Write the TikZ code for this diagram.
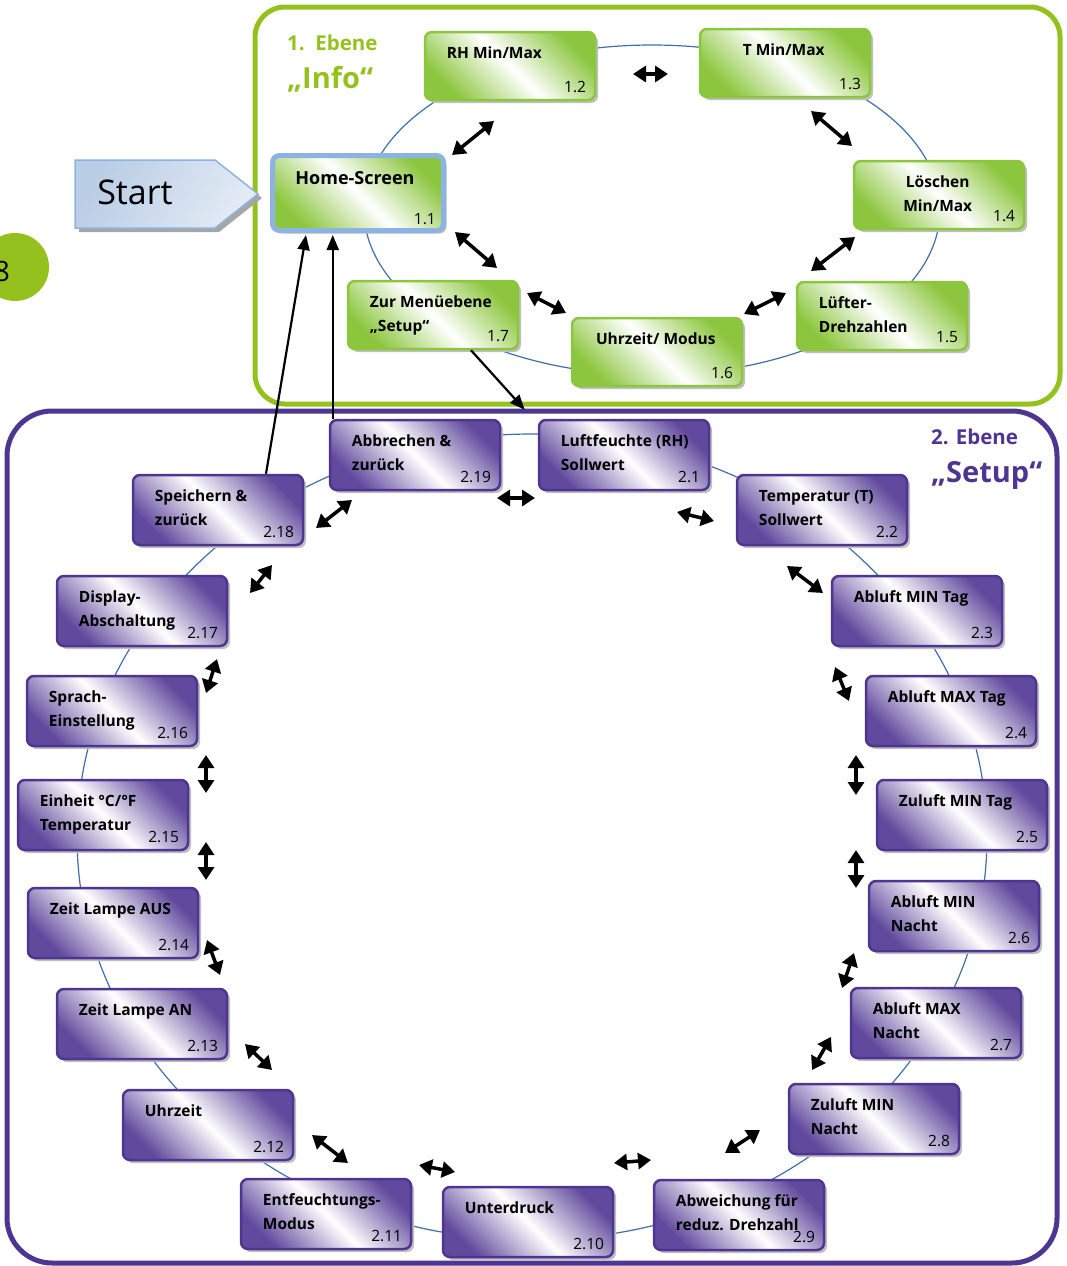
\documentclass[tikz,border=0pt]{standalone}
\usepackage{fontspec}
\setmainfont{Open Sans}
\usetikzlibrary{arrows.meta,shadows}
\definecolor{igreen}{HTML}{95C11F}
\definecolor{ngreen}{HTML}{8CC63E}
\definecolor{npurple}{HTML}{4F3592}
\definecolor{hblue}{HTML}{8DB3E2}
\definecolor{rblue}{HTML}{3F6FA8}
\definecolor{sblue}{HTML}{B9CDE5}
\newcommand{\menubox}[6][lvtwo]{%
  \node[#1] (#2) at (#3) {};
  \node[boxtext,#4] (#2t) at (#2.north west) {#5};
  \node[boxnum] (#2n) at (#2.south east) {#6};}

\tikzset{
  boxbase/.style={rectangle, rounded corners=7pt, line width=2.5pt,
    minimum width=170pt, minimum height=70pt,
    drop shadow={shadow xshift=3pt, shadow yshift=-3pt, fill=black!25, opacity=1}},
  lvone/.style={boxbase, draw=ngreen, left color=ngreen, right color=ngreen,
    middle color=white, shading angle=135, minimum height=68pt},
  lvtwo/.style={boxbase, draw=npurple, left color=npurple!90, right color=npurple!90,
    middle color=white, shading angle=135},
  home/.style={lvone, draw=hblue, line width=5pt, minimum width=171pt, minimum height=75pt},
  boxtext/.style={inner sep=0pt, font=\bfseries\fontsize{15.5}{24}\selectfont},
  lft/.style={anchor=north west, xshift=23pt, yshift=-16pt, align=left},
  ctr/.style={anchor=north, xshift=85pt, yshift=-16pt, align=center},
  boxnum/.style={anchor=base east, inner sep=0pt, xshift=-10pt, yshift=9pt,
    font=\fontsize{15.5}{17}\selectfont},
  ringline/.style={draw=rblue, line width=1.2pt},
  dbl/.style={line width=3.5pt, {Triangle[length=13pt,width=16pt]}-{Triangle[length=13pt,width=16pt]}},
  jump/.style={line width=2.2pt, -{Triangle[length=15pt,width=12pt]}},
  ebene/.style={anchor=base west, inner sep=0pt, font=\bfseries\fontsize{20.5}{22}\selectfont},
  ebenename/.style={anchor=base west, inner sep=0pt, font=\bfseries\fontsize{29}{32}\selectfont}
}

\begin{document}
\begin{tikzpicture}[x=1pt,y=-1pt]
  \useasboundingbox (0,0) rectangle (1067,1266);
  % frames of the two levels
  \draw[igreen, line width=5pt, rounded corners=30pt] (255,7) rectangle (1060,404);
  \draw[npurple, line width=5pt, rounded corners=45pt] (7,411) rectangle (1057,1263);
  \node[circle, fill=igreen, minimum size=68pt, inner sep=0pt] (pagedot) at (15,267) {};
  \node[font=\fontsize{28}{30}\selectfont] (pagenum) at (2,271) {8};
  \node[ebene, igreen] (ebeneone) at (287,50) {1.\ \ Ebene};
  \node[ebenename, igreen] (info) at (287,88) {„Info“};
  \node[ebene, npurple] (ebenetwo) at (931,444) {2. Ebene};
  \node[ebenename, npurple] (setup) at (931,482) {„Setup“};
  % start arrow
  \fill[black!35] (79,164) -- (219,164) -- (262,198) -- (219,232) -- (79,232) -- cycle;
  \draw[hblue, line width=1.5pt, left color=sblue, right color=sblue!40, shading angle=60]
    (75,160) -- (215,160) -- (258,194) -- (215,228) -- (75,228) -- cycle;
  \node[font=\fontsize{34}{36}\selectfont] (start) at (135,192) {Start};
  % rings
  \draw[ringline] (652,210) ellipse [x radius=288, y radius=165];
  \draw[ringline] (532,837) ellipse [x radius=455, y radius=403];
  % level 1
  \menubox[home]{home}{358,193}{ctr, yshift=-2pt, font=\bfseries\fontsize{18}{20}\selectfont}{Home-Screen}{1.1}
  \menubox[lvone]{rh}{510,66}{lft}{RH Min/Max}{1.2}
  \menubox[lvone]{tmm}{785,63}{ctr}{T Min/Max}{1.3}
  \menubox[lvone]{loe}{939,195}{ctr}{Löschen\\Min/Max}{1.4}
  \menubox[lvone]{lue}{882,316}{lft}{Lüfter-\\Drehzahlen}{1.5}
  \menubox[lvone]{uhr}{657,352}{ctr}{Uhrzeit/ Modus}{1.6}
  \menubox[lvone]{zm}{433,315}{lft}{Zur Menüebene\\„Setup“}{1.7}
  % level 2
  \menubox{s21}{624,455}{lft}{Luftfeuchte (RH)\\Sollwert}{2.1}
  \menubox{s22}{822,510}{lft}{Temperatur (T)\\Sollwert}{2.2}
  \menubox{s23}{917,611}{lft}{Abluft MIN Tag}{2.3}
  \menubox{s24}{951,711}{lft}{Abluft MAX Tag}{2.4}
  \menubox{s25}{962,815}{lft}{Zuluft MIN Tag}{2.5}
  \menubox{s26}{954,916}{lft}{Abluft MIN\\Nacht}{2.6}
  \menubox{s27}{936,1023}{lft}{Abluft MAX\\Nacht}{2.7}
  \menubox{s28}{874,1119}{lft}{Zuluft MIN\\Nacht}{2.8}
  \menubox{s29}{739,1215}{lft}{Abweichung für\\reduz. Drehzahl}{2.9}
  \menubox{s210}{528,1222}{lft}{Unterdruck}{2.10}
  \menubox{s211}{326,1214}{lft}{Entfeuchtungs-\\Modus}{2.11}
  \menubox{s212}{208,1125}{lft}{Uhrzeit}{2.12}
  \menubox{s213}{142,1024}{lft}{Zeit Lampe AN}{2.13}
  \menubox{s214}{113,923}{lft}{Zeit Lampe AUS}{2.14}
  \menubox{s215}{103,815}{lft}{Einheit °C/°F\\Temperatur}{2.15}
  \menubox{s216}{112,711}{lft}{Sprach-\\Einstellung}{2.16}
  \menubox{s217}{142,611}{lft}{Display-\\Abschaltung}{2.17}
  \menubox{s218}{218,510}{lft}{Speichern \&\\zurück}{2.18}
  \menubox{s219}{415,455}{lft}{Abbrechen \&\\zurück}{2.19}
  % moving along the rings
  \foreach \xa/\ya/\xb/\yb in {452/155/494/121, 633/74/668/74, 811/111/852/146, 855/237/811/271,
      786/293/744/314, 566/313/527/293, 497/268/455/232}
    {\draw[dbl] (\xa,\ya) -- (\xb,\yb);}
  \foreach \xa/\ya/\xb/\yb in {316/528/352/500, 250/593/272/565, 206/693/217/659, 206/793/206/755,
      206/880/206/842, 220/975/207/940, 272/1070/245/1044, 348/1163/312/1135,
      419/1165/455/1172, 614/1163/651/1160, 725/1153/760/1130, 812/1070/831/1037,
      842/988/854/953, 856/888/856/850, 856/795/856/755, 835/667/849/701,
      787/566/823/593, 677/512/714/521, 497/498/535/498}
    {\draw[dbl] (\xa,\ya) -- (\xb,\yb);}
  % between the levels
  \draw[jump] ([xshift=48pt]s218.north) -- ([xshift=-52pt, yshift=-2pt]home.south);
  \draw[jump] ([xshift=4pt]s219.north west) -- ([xshift=4pt, yshift=-2pt]s219.north west |- home.south);
  \draw[jump] ([xshift=38pt]zm.south) -- ([shift={(-13pt,9pt)}]s21.north west);
\end{tikzpicture}
\end{document}
